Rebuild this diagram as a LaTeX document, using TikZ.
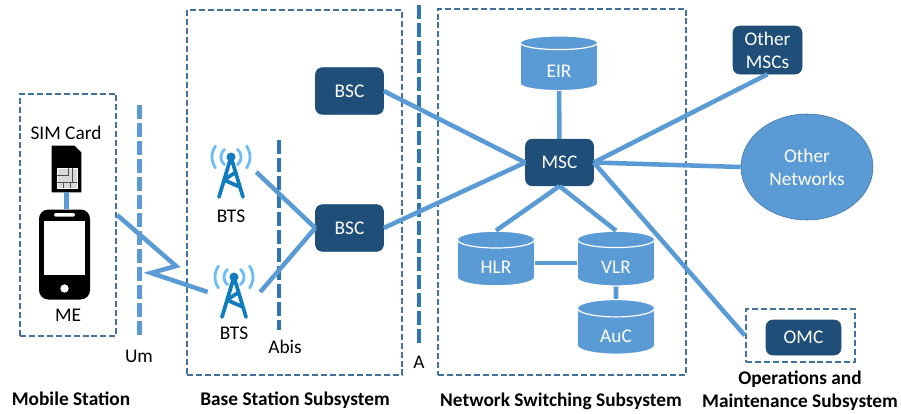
\documentclass[tikz,border=0pt]{standalone}
\usepackage{fontspec}
\setmainfont{Carlito}
\usetikzlibrary{positioning,shapes.geometric}
\definecolor{linkblue}{HTML}{5B9BD5}
\definecolor{darknode}{HTML}{1F4E79}
\definecolor{dashblue}{HTML}{41719C}
\definecolor{midblue}{HTML}{2E75B6}
\definecolor{towerblue}{HTML}{0F7DBD}
\definecolor{waveblue}{HTML}{6CBDF5}
\newcommand{\dbtext}[1]{\smash{\raisebox{-8pt}{#1}}}

\tikzset{
    tower/.pic={
        \draw[towerblue,line width=2.8pt,line cap=round,line join=round]
            (-12,25) -- (0,-15) -- (12,25)
            (5,0) -- (-7,8) -- (9,15);
        \fill[towerblue] (0,-15) circle (4.5);
        \draw[waveblue,line width=2.1pt,line cap=round]
            (0,-15) ++(50:10) arc (50:-50:10)
            (0,-15) ++(130:10) arc (130:230:10)
            (0,-15) ++(35:19) arc (35:-35:19)
            (0,-15) ++(145:19) arc (145:215:19);
    }
}

\begin{document}
\begin{tikzpicture}[
        x=0.75pt,
        y=-0.75pt,
        font=\fontsize{14.5}{17.2}\selectfont,
        subsystem/.style={
                rectangle,
                draw=dashblue,
                dash pattern=on 4.5pt off 2.2pt,
                line width=1.7pt,
                inner sep=0pt
            },
        device/.style={
                rectangle,
                rounded corners=5pt,
                draw=darknode,
                fill=darknode,
                text=white,
                align=center,
                minimum width=51pt,
                minimum height=35pt,
                inner sep=0pt
            },
        db/.style={
                cylinder,
                draw=white,
                line width=0.9pt,
                fill=linkblue,
                text=white,
                shape border rotate=90,
                aspect=0.55,
                minimum width=58pt,
                minimum height=41pt,
                inner sep=0pt
            },
        iface/.style={
                line width=3.6pt,
                dash pattern=on 10.5pt off 3pt
            },
        link/.style={
                linkblue,
                line width=3.4pt
            },
        heading/.style={
                font=\fontsize{14.5}{17.2}\selectfont\bfseries,
                align=center
            }
    ]
    \useasboundingbox (0,0) rectangle (901,414);

    % subsystem frames
    \node[subsystem,minimum width=72pt,minimum height=181.5pt] (MS) at (68,215) {};
    \node[subsystem,minimum width=161pt,minimum height=274pt] (BSS) at (294.5,192.5) {};
    \node[subsystem,minimum width=186pt,minimum height=274.5pt] (NSS) at (562,192) {};
    \node[subsystem,minimum width=81.75pt,minimum height=39.75pt] (OMCbox) at (800.5,335.5) {};

    % interface lines
    \coordinate (UmTop) at (139.5,105);
    \coordinate (UmEnd) at (139.5,335);
    \coordinate (AbisTop) at (279,140);
    \coordinate (AbisEnd) at (279,330);
    \coordinate (ATop) at (419,5);
    \coordinate (AEnd) at (419,345);
    \draw[iface,linkblue] (UmTop) -- (UmEnd);
    \draw[iface,midblue] (AbisTop) -- (AbisEnd);
    \draw[iface,midblue] (ATop) -- (AEnd);

    % mobile station
    \node[minimum width=21.75pt,minimum height=34.5pt,inner sep=0pt] (SIM) at (66.5,169) {};
    \fill (SIM.south west) -- (SIM.north west) -- ([xshift=-5pt]SIM.north east)
        -- ([yshift=-5pt]SIM.north east) -- (SIM.south east) -- cycle;
    \draw[white,fill=white!85!black,line width=.5pt] (57,168) rectangle (77,188);
    \draw[black!70,line width=.5pt] (57,175) -- (68,175) -- (68,168) (57,182) -- (77,182)
        (63,182) -- (63,188) (70,182) -- (70,188) (72,168) -- (72,182);
    \node[rectangle,rounded corners=7pt,fill=black,minimum width=38.25pt,minimum height=67.5pt,inner sep=0pt] (Phone) at (64.5,254.5) {};
    \fill[white] (44,220.5) rectangle (85,275);
    \fill[white,rounded corners=1pt] (54,213) rectangle (75,216.5);
    \fill[white] (64.5,288.5) circle (4.2);
    \draw[link] (SIM) -- (SIM |- Phone.north);
    \node (SIMlabel) at (66,133) {SIM Card};
    \node (MElabel) at (68,315) {ME};
    \node (Umlabel) at (139,356) {Um};
    \node (Abislabel) at (285,347) {Abis};
    \node (Alabel) at (419,362) {A};

    % base station subsystem
    \node[minimum width=37.5pt,minimum height=37.5pt,inner sep=0pt] (BTSa) at (231,172) {};
    \node[minimum width=39pt,minimum height=37.5pt,inner sep=0pt] (BTSb) at (234,292) {};
    \pic at (BTSa) {tower};
    \pic at (BTSb) {tower};
    \node (BTSalabel) at (231,216) {BTS};
    \node (BTSblabel) at (234,333) {BTS};
    \node[device] (BSCa) at (349.5,91) {BSC};
    \node[device] (BSCb) at (349.5,228) {BSC};

    % switching subsystem
    \node[device] (MSC) at (559.5,162.5) {MSC};
    \node[db] (EIR) at (559,67) {\dbtext{EIR}};
    \node[db] (HLR) at (496,263) {\dbtext{HLR}};
    \node[db] (VLR) at (616,263) {\dbtext{VLR}};
    \node[db] (AuC) at (616,331.5) {\dbtext{AuC}};

    % outside nodes
    \node[device,minimum width=51.75pt,minimum height=36pt] (Others) at (767.5,50) {Other\\MSCs};
    \node[ellipse,fill=linkblue,draw=dashblue,text=white,align=center,minimum width=99pt,minimum height=79.5pt,inner sep=0pt] (Networks) at (807,167) {Other\\Networks};
    \node[device,minimum width=56.25pt,minimum height=26.25pt] (OMC) at (803.5,337.5) {OMC};

    % links
    \coordinate (ZigA) at (176,266);
    \coordinate (ZigB) at (151,273);
    \draw[link] (MS.east) -- (ZigA) -- (ZigB) -- (BTSb.west);
    \draw[link] (BTSa.east) -- (BSCb.west);
    \draw[link] (BTSb.east) -- (BSCb.west);
    \draw[link] (BSCa.east) -- (MSC.west);
    \draw[link] (BSCb.east) -- (MSC.west);
    \draw[link] (EIR) -- (MSC);
    \draw[link] (MSC.south) -- (HLR.north);
    \draw[link] (MSC.south) -- (VLR.north);
    \draw[link] (HLR) -- (VLR);
    \draw[link] (VLR) -- (AuC);
    \draw[link] (MSC.east) -- (Others.south);
    \draw[link] (MSC.east) -- (Networks.west);
    \draw[link] (MSC.east) -- (OMCbox.west);

    % captions
    \node[heading] (MShead) at (71,399) {Mobile Station};
    \node[heading] (BSShead) at (295,400) {Base Station Subsystem};
    \node[heading] (NSShead) at (561,401) {Network Switching Subsystem};
    \node[heading] (OMChead) at (800,391) {Operations and\\Maintenance Subsystem};
\end{tikzpicture}
\end{document}
